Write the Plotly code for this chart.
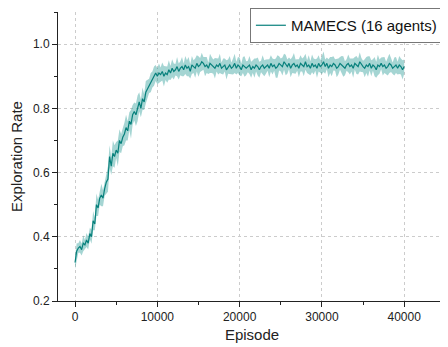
import plotly.graph_objects as go

# episodes, every 200 from 0 to 40000
episodes = list(range(0, 40001, 200))

# mean exploration rate
mean_rate = [
    0.32, 0.355, 0.365, 0.37, 0.36, 0.38, 0.375, 0.39, 0.38, 0.41,
    0.40, 0.45, 0.44, 0.50, 0.49, 0.52, 0.53, 0.52, 0.55, 0.57,
    0.58, 0.65, 0.62, 0.66, 0.65, 0.67, 0.66, 0.70, 0.69, 0.71,
    0.72, 0.74, 0.73, 0.76, 0.75, 0.78, 0.79, 0.78, 0.80, 0.82,
    0.80, 0.83, 0.82, 0.85, 0.86, 0.87, 0.88, 0.89, 0.90, 0.91,
    0.90, 0.91, 0.905, 0.915, 0.90, 0.91, 0.905, 0.92, 0.91, 0.925,
    0.915, 0.92, 0.93, 0.915, 0.925, 0.93, 0.92, 0.935, 0.925, 0.93,
    0.915, 0.935, 0.93, 0.925, 0.94, 0.93, 0.935, 0.945, 0.94, 0.93,
    0.935, 0.925, 0.94, 0.935, 0.93, 0.925, 0.935, 0.93, 0.94, 0.925,
    0.93, 0.935, 0.92, 0.93, 0.935, 0.925, 0.93, 0.94, 0.925, 0.935,
    0.93, 0.92, 0.935, 0.93, 0.925, 0.93, 0.935, 0.92, 0.93, 0.925,
    0.935, 0.93, 0.92, 0.93, 0.935, 0.925, 0.93, 0.935, 0.925, 0.94,
    0.93, 0.935, 0.925, 0.93, 0.94, 0.935, 0.93, 0.945, 0.935, 0.93,
    0.94, 0.925, 0.935, 0.94, 0.93, 0.935, 0.925, 0.94, 0.935, 0.93,
    0.945, 0.93, 0.935, 0.925, 0.94, 0.93, 0.935, 0.925, 0.94, 0.93,
    0.935, 0.945, 0.93, 0.94, 0.925, 0.935, 0.93, 0.94, 0.935, 0.925,
    0.93, 0.94, 0.935, 0.93, 0.925, 0.935, 0.94, 0.93, 0.935, 0.925,
    0.94, 0.935, 0.93, 0.945, 0.935, 0.93, 0.925, 0.935, 0.93, 0.94,
    0.925, 0.935, 0.93, 0.92, 0.935, 0.93, 0.94, 0.93, 0.935, 0.925,
    0.93, 0.94, 0.935, 0.925, 0.93, 0.935, 0.925, 0.935, 0.93, 0.92,
    0.93,
]

# half-width of the shaded band
spread = [
    0.02, 0.025, 0.015, 0.02, 0.018, 0.025, 0.015, 0.022, 0.02, 0.018,
    0.022, 0.03, 0.02, 0.035, 0.025, 0.02, 0.035, 0.025, 0.022, 0.035,
    0.04, 0.035, 0.028, 0.04, 0.035, 0.025, 0.04, 0.035, 0.03, 0.028,
    0.035, 0.04, 0.03, 0.028, 0.045, 0.03, 0.028, 0.035, 0.04, 0.03,
    0.028, 0.035, 0.025, 0.035, 0.028, 0.022, 0.03, 0.025, 0.03, 0.025,
    0.025, 0.03, 0.022, 0.028, 0.032, 0.022, 0.025, 0.03, 0.022, 0.028,
    0.025, 0.018, 0.03, 0.025, 0.022, 0.03, 0.02, 0.028, 0.025, 0.03,
    0.022, 0.028, 0.02, 0.03, 0.025, 0.032, 0.022, 0.028, 0.02, 0.03,
    0.025, 0.018, 0.03, 0.025, 0.022, 0.032, 0.02, 0.025, 0.03, 0.018,
    0.025, 0.02, 0.03, 0.022, 0.028, 0.018, 0.025, 0.03, 0.02, 0.025,
    0.028, 0.02, 0.025, 0.032, 0.022, 0.018, 0.028, 0.025, 0.02, 0.03,
    0.02, 0.028, 0.025, 0.018, 0.03, 0.025, 0.022, 0.018, 0.028, 0.025,
    0.025, 0.018, 0.03, 0.035, 0.022, 0.02, 0.028, 0.025, 0.032, 0.022,
    0.018, 0.028, 0.025, 0.032, 0.022, 0.018, 0.028, 0.025, 0.02, 0.03,
    0.025, 0.02, 0.03, 0.022, 0.028, 0.025, 0.018, 0.03, 0.025, 0.02,
    0.028, 0.032, 0.022, 0.018, 0.028, 0.025, 0.03, 0.022, 0.018, 0.028,
    0.025, 0.02, 0.028, 0.032, 0.022, 0.018, 0.028, 0.025, 0.02, 0.03,
    0.02, 0.028, 0.025, 0.03, 0.022, 0.018, 0.028, 0.025, 0.032, 0.022,
    0.025, 0.018, 0.03, 0.025, 0.032, 0.022, 0.018, 0.028, 0.025, 0.02,
    0.028, 0.03, 0.022, 0.018, 0.028, 0.025, 0.02, 0.028, 0.025, 0.03,
    0.022,
]

upper = [m + s for m, s in zip(mean_rate, spread)]
lower = [m - s for m, s in zip(mean_rate, spread)]

x_ticks = [0, 10000, 20000, 30000, 40000]
y_ticks = [0.2, 0.4, 0.6, 0.8, 1.0]

line_color = '#07807c'
band_color = 'rgba(30,150,145,0.40)'
grid_color = '#cccccc'

fig = go.Figure()

# shaded band
fig.add_trace(go.Scatter(x=episodes, y=lower, mode='lines',
                         line=dict(width=0), showlegend=False, hoverinfo='skip'))
fig.add_trace(go.Scatter(x=episodes, y=upper, mode='lines', fill='tonexty',
                         fillcolor=band_color, line=dict(width=0),
                         showlegend=False, hoverinfo='skip'))

# mean line
fig.add_trace(go.Scatter(x=episodes, y=mean_rate, mode='lines',
                         name='MAMECS (16 agents)',
                         line=dict(color=line_color, width=1.2)))

font_family = 'Liberation Sans, Arial, sans-serif'

# page body has an 8px margin, so the figure is 8px smaller each way
fig.update_layout(
    width=440, height=339,
    margin=dict(l=50, r=2, t=4, b=46, autoexpand=False),
    plot_bgcolor='white',
    paper_bgcolor='white',
    font=dict(family=font_family, size=12, color='#222'),
    showlegend=True,
    legend=dict(
        x=0.992, y=1.0138, xanchor='right', yanchor='top',
        bgcolor='white', bordercolor='#777', borderwidth=1,
        font=dict(size=15, color='#111'),
        tracegroupgap=0, itemwidth=30,
    ),
)

fig.update_xaxes(
    range=[-2070, 45080],
    tickvals=x_ticks,
    ticktext=[str(v) for v in x_ticks],
    showline=True, linecolor='#222', linewidth=1,
    ticks='outside', ticklen=5, tickcolor='#222',
    minor=dict(ticks='outside', ticklen=3, dtick=5000, tick0=0,
               tickcolor='#222', showgrid=False),
    showgrid=True, gridcolor=grid_color, griddash='3px,3px', gridwidth=1,
    zeroline=False, automargin=False,
    title=dict(text='Episode', font=dict(size=15), standoff=6),
    tickfont=dict(size=12),
)

fig.update_yaxes(
    range=[0.2, 1.1],
    tickvals=y_ticks,
    ticktext=['%.1f' % v for v in y_ticks],
    showline=True, linecolor='#222', linewidth=1,
    ticks='outside', ticklen=5, tickcolor='#222',
    minor=dict(ticks='outside', ticklen=3, dtick=0.1, tick0=0.2,
               tickcolor='#222', showgrid=False),
    showgrid=True, gridcolor=grid_color, griddash='3px,3px', gridwidth=1,
    zeroline=False, automargin=False,
    title=dict(text='Exploration Rate', font=dict(size=15), standoff=14),
    tickfont=dict(size=12),
)

fig.write_html("out.html")
